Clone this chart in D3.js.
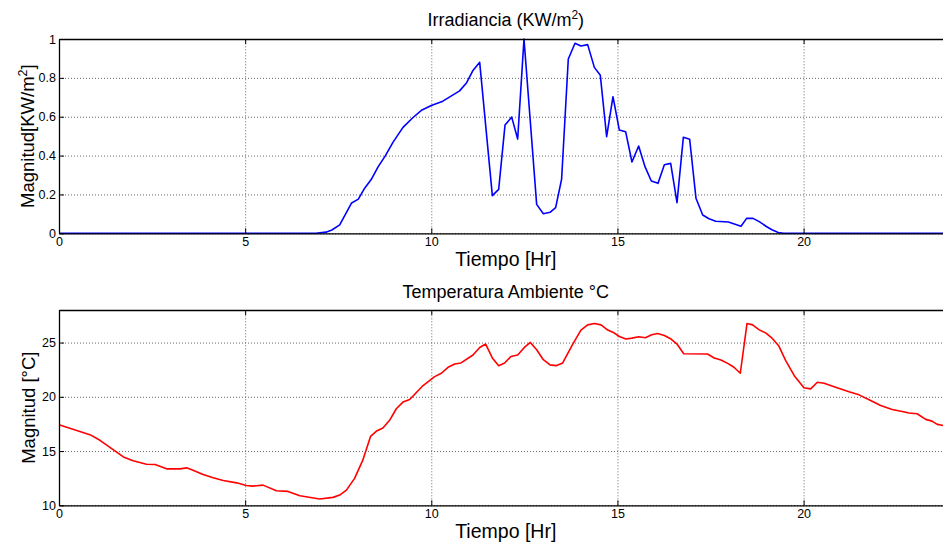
<!DOCTYPE html>
<html><head><meta charset="utf-8">
<script src="https://cdn.jsdelivr.net/npm/d3@7"></script>
<style>
html,body{margin:0;padding:0;background:#fff;}
svg{display:block;font-family:"Liberation Sans",Arial,Helvetica,sans-serif;}
</style></head><body>
<svg id="chart" width="943" height="548"></svg>
<script>
// ---- data ----
const xTicks = [0, 5, 10, 15, 20];
const irrTicks = [0, 0.2, 0.4, 0.6, 0.8, 1];
const tempTicks = [10, 15, 20, 25];

const irrTime = [0,6.9,7.17,7.33,7.54,7.86,8.04,8.21,8.39,8.57,8.76,8.97,9.24,9.51,9.75,10.0,10.31,10.76,10.95,11.12,11.3,11.64,11.81,11.98,12.16,12.32,12.49,12.83,13.01,13.19,13.34,13.5,13.68,13.86,14.02,14.2,14.38,14.54,14.71,14.88,15.05,15.22,15.39,15.57,15.74,15.91,16.09,16.26,16.43,16.6,16.77,16.94,17.11,17.29,17.46,17.64,17.98,18.32,18.47,18.64,18.81,19.0,19.15,19.32,19.46,24];
const irrValue = [0,0,0.006,0.017,0.043,0.156,0.176,0.232,0.278,0.342,0.397,0.468,0.545,0.596,0.635,0.658,0.68,0.733,0.775,0.838,0.88,0.194,0.226,0.557,0.598,0.485,1.0,0.149,0.101,0.108,0.132,0.278,0.897,0.978,0.964,0.971,0.854,0.813,0.497,0.703,0.532,0.523,0.367,0.449,0.343,0.269,0.257,0.353,0.36,0.158,0.494,0.484,0.18,0.094,0.075,0.062,0.058,0.036,0.077,0.077,0.06,0.035,0.018,0.004,0,0];

const tempTime = [0,0.83,1.1,1.73,1.99,2.35,2.58,2.89,3.25,3.43,3.6,3.87,4.14,4.41,4.77,5.03,5.21,5.48,5.84,6.15,6.47,7.0,7.36,7.54,7.72,7.94,8.16,8.37,8.52,8.7,8.88,9.06,9.24,9.42,9.78,10.09,10.27,10.45,10.63,10.8,11.12,11.3,11.46,11.64,11.81,11.97,12.14,12.32,12.5,12.66,12.83,13.01,13.19,13.35,13.53,13.8,14.02,14.2,14.38,14.56,14.74,14.89,15.05,15.23,15.39,15.57,15.75,15.92,16.08,16.26,16.44,16.6,16.78,17.42,17.6,17.78,17.96,18.13,18.3,18.48,18.63,18.81,18.99,19.16,19.33,19.52,19.75,20.01,20.19,20.37,20.55,20.86,21.22,21.49,21.8,22.07,22.38,22.65,22.83,23.05,23.28,23.45,23.59,23.72,23.83];
const tempValue = [17.43,16.51,15.99,14.46,14.1,13.79,13.76,13.36,13.36,13.45,13.24,12.84,12.53,12.29,12.07,11.83,11.77,11.86,11.34,11.28,10.88,10.58,10.73,10.94,11.4,12.48,14.16,16.36,16.82,17.12,17.83,18.9,19.51,19.75,21.04,21.86,22.17,22.72,23.03,23.12,23.85,24.55,24.86,23.58,22.87,23.12,23.72,23.85,24.55,25.01,24.34,23.42,22.94,22.87,23.12,24.86,26.15,26.63,26.75,26.63,26.15,25.93,25.56,25.32,25.41,25.53,25.44,25.72,25.83,25.65,25.32,24.86,23.97,23.94,23.58,23.39,23.08,22.72,22.17,26.75,26.63,26.17,25.87,25.38,24.71,23.33,21.95,20.83,20.73,21.34,21.25,20.88,20.46,20.18,19.66,19.2,18.83,18.65,18.5,18.44,17.92,17.76,17.46,17.37,17.3];

// ---- layout ----
const svg = d3.select("#chart");
const left = 59, right = 952.5;
const x = d3.scaleLinear().domain([0, 24]).range([left, right]);

function panel(cfg) {
  const y = d3.scaleLinear().domain(cfg.yDomain).range([cfg.bottom, cfg.top]);
  const g = svg.append("g");
  const h = cfg.bottom - cfg.top, w = right - left;

  // grid
  g.append("g").attr("transform", `translate(0,${cfg.bottom})`)
    .call(d3.axisBottom(x).tickValues(xTicks).tickSize(-h).tickFormat(""))
    .call(s => { s.select(".domain").remove(); s.selectAll("line").attr("stroke", "#666").attr("stroke-dasharray", "1,2"); });
  g.append("g").attr("transform", `translate(${left},0)`)
    .call(d3.axisLeft(y).tickValues(cfg.yTicks).tickSize(-w).tickFormat(""))
    .call(s => { s.select(".domain").remove(); s.selectAll("line").attr("stroke", "#666").attr("stroke-dasharray", "1,2"); });

  // line
  const data = cfg.t.map((t, i) => [t, cfg.v[i]]);
  g.append("path").datum(data)
    .attr("fill", "none").attr("stroke", cfg.color).attr("stroke-width", 1.6)
    .attr("stroke-linejoin", "round")
    .attr("d", d3.line().x(d => x(d[0])).y(d => y(d[1])));

  // axes (ticks inside)
  const ax = g.append("g").attr("transform", `translate(0,${cfg.bottom})`)
    .call(d3.axisBottom(x).tickValues(xTicks).tickSize(-5).tickPadding(4).tickSizeOuter(0));
  ax.select(".domain").attr("stroke", "#000").attr("stroke-width", 1.3);
  ax.selectAll("text").attr("font-size", 12.5).attr("fill", "#000").attr("font-family", "Liberation Sans, Arial, sans-serif");

  const axTop = g.append("g").attr("transform", `translate(0,${cfg.top})`)
    .call(d3.axisTop(x).tickValues(xTicks).tickSize(-5).tickFormat("").tickSizeOuter(0));
  axTop.select(".domain").attr("stroke", "#000").attr("stroke-width", 1.3);

  const ay = g.append("g").attr("transform", `translate(${left},0)`)
    .call(d3.axisLeft(y).tickValues(cfg.yTicks).tickSize(-5).tickPadding(3).tickSizeOuter(0).tickFormat(cfg.fmt));
  ay.select(".domain").attr("stroke", "#000").attr("stroke-width", 1.3);
  ay.selectAll("text").attr("font-size", 12.5).attr("fill", "#000").attr("font-family", "Liberation Sans, Arial, sans-serif");

  // title
  const tt = svg.append("text").attr("x", (left + right) / 2).attr("y", cfg.titleY)
    .attr("text-anchor", "middle").attr("font-size", 18).attr("fill", "#000");
  cfg.title(tt);

  // x label
  svg.append("text").attr("x", (left + right) / 2).attr("y", cfg.bottom + 33)
    .attr("text-anchor", "middle").attr("font-size", 19.5).attr("fill", "#000").text("Tiempo [Hr]");

  // y label
  const yl = svg.append("text")
    .attr("transform", `translate(${cfg.ylabX},${(cfg.top + cfg.bottom) / 2}) rotate(-90)`)
    .attr("text-anchor", "middle").attr("font-size", 18.5).attr("fill", "#000");
  cfg.ylabel(yl);
}

panel({
  top: 39, bottom: 233.3, yDomain: [0, 1], yTicks: irrTicks, fmt: d3.format("~g"),
  t: irrTime, v: irrValue, color: "#0000ff", titleY: 26, ylabX: 34,
  title: t => { t.append("tspan").text("Irradiancia (KW/m"); t.append("tspan").attr("font-size", 12).attr("dy", -7).text("2"); t.append("tspan").attr("dy", 7).text(")"); },
  ylabel: t => { t.append("tspan").text("Magnitud[KW/m"); t.append("tspan").attr("font-size", 12.5).attr("dy", -7).text("2"); t.append("tspan").attr("dy", 7).text("]"); }
});

panel({
  top: 310, bottom: 505.3, yDomain: [10, 28], yTicks: tempTicks, fmt: d3.format("d"),
  t: tempTime, v: tempValue, color: "#ff0000", titleY: 298, ylabX: 35,
  title: t => t.text("Temperatura Ambiente °C"),
  ylabel: t => t.text("Magnitud [°C]")
});
</script>
</body></html>
